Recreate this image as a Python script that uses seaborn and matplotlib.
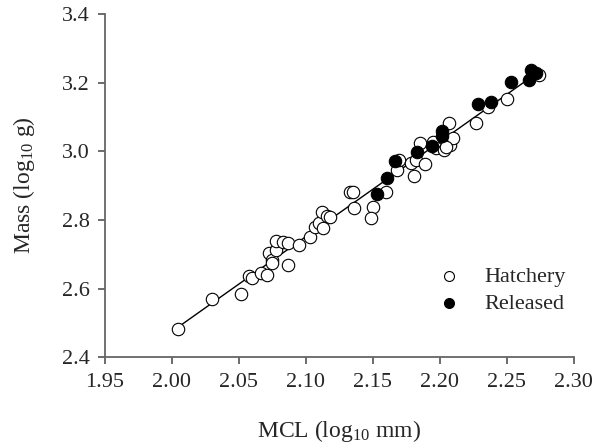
import numpy as np
import pandas as pd
import matplotlib
matplotlib.use("Agg")
import matplotlib.pyplot as plt
import seaborn as sns

# values (log10 MCL mm, log10 mass g)
hatch_x = [2.005, 2.030, 2.052, 2.058, 2.060, 2.067, 2.071, 2.073, 2.075, 2.075,
           2.078, 2.078, 2.083, 2.087, 2.087, 2.095, 2.103, 2.107, 2.110, 2.112,
           2.113, 2.116, 2.118, 2.133, 2.135, 2.136, 2.150, 2.149, 2.160, 2.168,
           2.170, 2.179, 2.181, 2.182, 2.189, 2.185, 2.195, 2.197, 2.203, 2.208,
           2.210, 2.207, 2.227, 2.236, 2.250, 2.274, 2.205]
hatch_y = [2.482, 2.570, 2.585, 2.636, 2.631, 2.646, 2.640, 2.705, 2.682, 2.674,
           2.711, 2.739, 2.737, 2.734, 2.670, 2.726, 2.750, 2.778, 2.790, 2.823,
           2.776, 2.810, 2.808, 2.882, 2.880, 2.836, 2.838, 2.806, 2.880, 2.945,
           2.974, 2.965, 2.928, 2.974, 2.962, 3.023, 3.028, 3.008, 3.004, 3.018,
           3.038, 3.081, 3.083, 3.130, 3.151, 3.222, 3.013]

rel_x = [2.153, 2.161, 2.167, 2.183, 2.194, 2.202, 2.202, 2.229, 2.238, 2.253,
         2.268, 2.267, 2.272]
rel_y = [2.875, 2.921, 2.971, 2.999, 3.015, 3.060, 3.044, 3.137, 3.143, 3.202,
         3.236, 3.207, 3.227]

hatch = pd.DataFrame({"MCL": hatch_x, "Mass": hatch_y, "Group": "Hatchery"})
rel = pd.DataFrame({"MCL": rel_x, "Mass": rel_y, "Group": "Released"})
df = pd.concat([hatch, rel], ignore_index=True)

sns.set_style("ticks")
plt.rcParams["font.family"] = ["Liberation Serif", "DejaVu Serif"]
plt.rcParams["mathtext.fontset"] = "custom"
plt.rcParams["mathtext.rm"] = "Liberation Serif"
plt.rcParams["mathtext.it"] = "Liberation Serif:italic"

fig = plt.figure(figsize=(6, 4.48), dpi=100)
ax = fig.add_axes([0.1745, 0.2025, 0.7815, 0.7665])

# regression line over all fish
sns.regplot(data=df, x="MCL", y="Mass", scatter=False, ci=None, ax=ax,
            line_kws={"color": "black", "lw": 1.0, "zorder": 1})

sns.scatterplot(data=hatch, x="MCL", y="Mass", ax=ax, color="white",
                edgecolor="black", linewidth=0.8, s=80, label="Hatchery", zorder=2)
sns.scatterplot(data=rel, x="MCL", y="Mass", ax=ax, color="black",
                edgecolor="black", linewidth=0.8, s=80, label="Released", zorder=3)

ax.set_xlim(1.95, 2.30)
ax.set_ylim(2.4, 3.4)
ax.set_xticks(np.arange(1.95, 2.301, 0.05))
ax.set_yticks(np.arange(2.4, 3.401, 0.2))
ax.set_xticklabels([f"{v:.2f}" for v in np.arange(1.95, 2.301, 0.05)])
ax.set_yticklabels([f"{v:.1f}" for v in np.arange(2.4, 3.401, 0.2)])

ax.set_xlabel("MCL (log$_{10}$ mm)", fontsize=17, labelpad=19)
ax.set_ylabel("Mass (log$_{10}$ g)", fontsize=17, labelpad=18)

sns.despine(ax=ax)
for side in ["left", "bottom"]:
    ax.spines[side].set_color("#666666")
    ax.spines[side].set_linewidth(1.3)
ax.tick_params(labelsize=16, length=5, width=1.1, color="#444444", pad=6)

leg = ax.legend(loc="lower right", bbox_to_anchor=(1.026, 0.068), frameon=False,
                fontsize=16, handletextpad=0.6, labelspacing=0.3, markerscale=0.8)
for h in leg.legend_handles:
    h.set_edgecolor("black")

fig.savefig("out.png", dpi=100)
